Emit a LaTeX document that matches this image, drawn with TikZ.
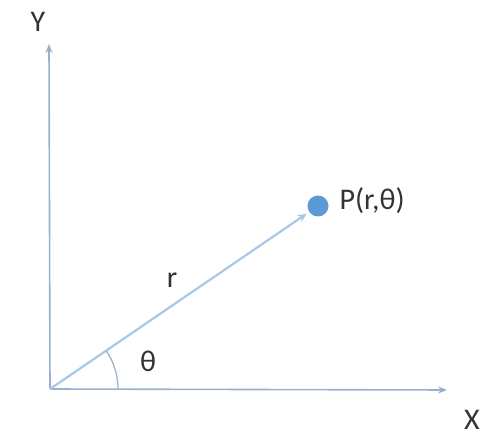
\documentclass[tikz,border=0pt]{standalone}
\usepackage{fontspec}
\setmainfont{Carlito}
\usetikzlibrary{arrows.meta}
\definecolor{axiscol}{HTML}{9AAFCB}
\definecolor{raycol}{HTML}{A9C8E8}
\definecolor{dotcol}{HTML}{5B9BD5}
\begin{document}
\begin{tikzpicture}[x=1pt, y=1pt,
    axis/.style={line width=1.6pt, axiscol, -{Stealth[length=9pt,width=7pt]}},
    ray/.style={line width=2.2pt, raycol, -{Stealth[length=9pt,width=8pt]}},
    lbl/.style={font=\fontsize{30}{32}\selectfont, text=black!80}]
\useasboundingbox (0,0) rectangle (495,441);
\coordinate (O) at (50,52);
\coordinate (ytip) at (49,397);
\coordinate (xtip) at (447,51);
\draw[axis] (O) -- (ytip);
\draw[axis] (O) -- (xtip);
\node[circle, fill=dotcol, minimum size=21pt, inner sep=0pt] (P) at (318,235) {};
\draw[ray, shorten >=3pt] (O) -- (P);
\draw[line width=1.2pt, axiscol] (118,52) arc[start angle=0, end angle=34, radius=68];
\node[lbl] (ylab) at (38,419) {Y};
\node[lbl] (xlab) at (472,21) {X};
\node[lbl] (rlab) at (172,161) {r};
\node[lbl] (thlab) at (148,80) {θ};
\node[lbl, anchor=west] (plab) at (336,240) {P(r,θ)};
\end{tikzpicture}
\end{document}
